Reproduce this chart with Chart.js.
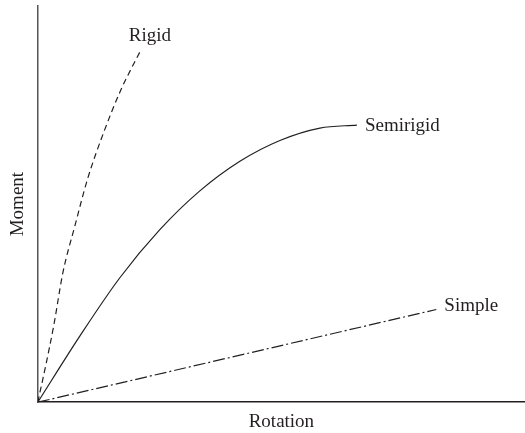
<!DOCTYPE html>
<html>
<head>
<meta charset="utf-8">
<script src="https://cdn.jsdelivr.net/npm/chart.js@4/dist/chart.umd.min.js"></script>
<style>
  html, body { margin: 0; padding: 0; background: #fff; }
  #wrap { width: 525px; height: 433px; }
</style>
</head>
<body>
<div id="wrap"><canvas id="chart"></canvas></div>
<script>
// connection curves: rotation vs moment
var rigidX = [0, 1.64, 3.29, 5.13, 7.60, 10.27, 13.55, 17.04, 21.15];
var rigidY = [0, 9.34, 19.44, 32.58, 44.44, 56.57, 68.18, 78.79, 88.89];

var semiX = [0, 8.62, 16.84, 25.05, 33.26, 41.48, 49.69, 57.91, 65.50];
var semiY = [0, 16.67, 31.41, 43.54, 53.33, 60.81, 66.06, 69.19, 69.95];

var simpleX = [0, 81.8];
var simpleY = [0, 23.4];

var names = ['Rigid', 'Semirigid', 'Simple'];

var ink = '#231f20';
var serif = '"Liberation Serif", "DejaVu Serif", serif';

function toPoints(xs, ys) {
  return xs.map(function (x, i) { return { x: x, y: ys[i] }; });
}

// writes each curve's name next to its last point
var endLabels = {
  id: 'endLabels',
  afterDatasetsDraw: function (chart, args, opts) {
    var ctx = chart.ctx;
    ctx.save();
    ctx.fillStyle = ink;
    ctx.font = '19px ' + serif;
    chart.data.datasets.forEach(function (ds, i) {
      var pts = chart.getDatasetMeta(i).data;
      var last = pts[pts.length - 1];
      var off = opts.offsets[i];
      ctx.textAlign = off.align;
      ctx.textBaseline = 'middle';
      ctx.fillText(ds.label, last.x + off.dx, last.y + off.dy);
    });
    ctx.restore();
  }
};

function makeSet(label, xs, ys, dash) {
  return {
    label: label,
    data: toPoints(xs, ys),
    borderColor: ink,
    borderWidth: 1.2,
    borderDash: dash,
    pointRadius: 0,
    fill: false,
    cubicInterpolationMode: 'monotone'
  };
}

new Chart(document.getElementById('chart'), {
  type: 'line',
  data: {
    datasets: [
      makeSet(names[0], rigidX, rigidY, [6, 4]),
      makeSet(names[1], semiX, semiY, []),
      makeSet(names[2], simpleX, simpleY, [12, 3, 2, 3])
    ]
  },
  options: {
    responsive: true,
    maintainAspectRatio: false,
    animation: false,
    layout: { padding: { left: 7, top: 6, right: 0, bottom: 0 } },
    plugins: {
      legend: { display: false },
      tooltip: { enabled: false },
      endLabels: {
        offsets: [
          { dx: 9, dy: -14, align: 'center' },
          { dx: 8, dy: 1, align: 'left' },
          { dx: 8, dy: -3, align: 'left' }
        ]
      }
    },
    scales: {
      x: {
        type: 'linear',
        min: 0,
        max: 100,
        grid: { display: false, drawTicks: false },
        border: { display: true, color: ink, width: 1.5 },
        ticks: { display: false },
        title: { display: true, text: 'Rotation', color: ink, font: { family: serif, size: 19 }, padding: { top: 8, bottom: 0 } }
      },
      y: {
        type: 'linear',
        min: 0,
        max: 100,
        grid: { display: false, drawTicks: false },
        border: { display: true, color: '#555', width: 1.5 },
        ticks: { display: false },
        title: { display: true, text: 'Moment', color: ink, font: { family: serif, size: 19 }, padding: { top: 0, bottom: 8 } }
      }
    }
  },
  plugins: [endLabels]
});
</script>
</body>
</html>
